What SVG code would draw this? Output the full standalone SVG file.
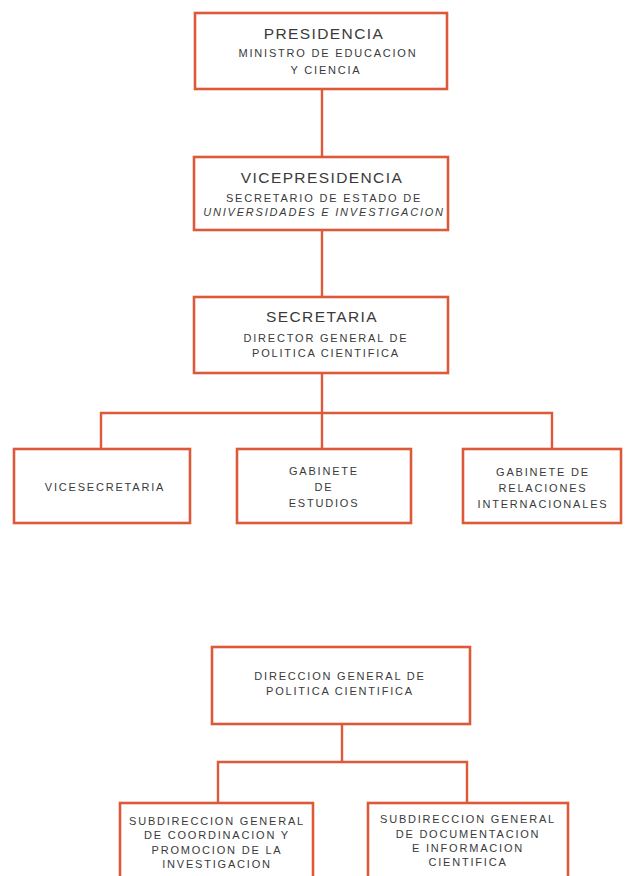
<svg xmlns="http://www.w3.org/2000/svg" width="627" height="876" viewBox="0 0 627 876">
<style>
.box{fill:#ffffff;stroke:#dc5a3a;stroke-width:2.6}
.con{fill:none;stroke:#dc5a3a;stroke-width:2.4}
text{font-family:"Liberation Sans",Arial,Helvetica,sans-serif;fill:#3a3a3a;text-anchor:middle}
.t{font-size:15.5px;letter-spacing:1.4px}
.s{font-size:11px;letter-spacing:1.8px}
.i{font-style:italic}
</style>
<rect width="627" height="876" fill="#ffffff"/>
<g id="connectors">
<path class="con" d="M322 89V157"/>
<path class="con" d="M322 230V297"/>
<path class="con" d="M322 373V449"/>
<path class="con" d="M101 449V413H552V449"/>
<path class="con" d="M342 724V762"/>
<path class="con" d="M218 803V762H467V803"/>
</g>
<g id="presidencia">
<rect class="box" x="195" y="13" width="252" height="76"/>
<text class="t" x="324" y="39">PRESIDENCIA</text>
<text class="s" x="328" y="57">MINISTRO DE EDUCACION</text>
<text class="s" x="326" y="74">Y CIENCIA</text>
</g>
<g id="vicepresidencia">
<rect class="box" x="194" y="157" width="254" height="73"/>
<text class="t" x="322" y="183">VICEPRESIDENCIA</text>
<text class="s" x="324" y="202">SECRETARIO DE ESTADO DE</text>
<text class="s i" x="324" y="216">UNIVERSIDADES E INVESTIGACION</text>
</g>
<g id="secretaria">
<rect class="box" x="194" y="297" width="254" height="76"/>
<text class="t" x="322" y="322">SECRETARIA</text>
<text class="s" x="326" y="342">DIRECTOR GENERAL DE</text>
<text class="s" x="326" y="357">POLITICA CIENTIFICA</text>
</g>
<g id="vicesecretaria">
<rect class="box" x="14" y="449" width="176" height="74"/>
<text class="s" x="105" y="491">VICESECRETARIA</text>
</g>
<g id="gabinete-estudios">
<rect class="box" x="237" y="449" width="174" height="74"/>
<text class="s" x="324" y="475">GABINETE</text>
<text class="s" x="324" y="491">DE</text>
<text class="s" x="324" y="507">ESTUDIOS</text>
</g>
<g id="gabinete-relaciones">
<rect class="box" x="463" y="449" width="158" height="74"/>
<text class="s" x="543" y="476">GABINETE DE</text>
<text class="s" x="543" y="492">RELACIONES</text>
<text class="s" x="543" y="508">INTERNACIONALES</text>
</g>
<g id="direccion-general">
<rect class="box" x="212" y="647" width="258" height="77"/>
<text class="s" x="340" y="680">DIRECCION GENERAL DE</text>
<text class="s" x="340" y="695">POLITICA CIENTIFICA</text>
</g>
<g id="subdireccion-coordinacion">
<rect class="box" x="120" y="803" width="193" height="90"/>
<text class="s" x="217" y="825">SUBDIRECCION GENERAL</text>
<text class="s" x="217" y="839">DE COORDINACION Y</text>
<text class="s" x="217" y="854">PROMOCION DE LA</text>
<text class="s" x="217" y="868">INVESTIGACION</text>
</g>
<g id="subdireccion-documentacion">
<rect class="box" x="368" y="803" width="200" height="90"/>
<text class="s" x="468" y="823">SUBDIRECCION GENERAL</text>
<text class="s" x="468" y="838">DE DOCUMENTACION</text>
<text class="s" x="468" y="852">E INFORMACION</text>
<text class="s" x="468" y="866">CIENTIFICA</text>
</g>
</svg>
